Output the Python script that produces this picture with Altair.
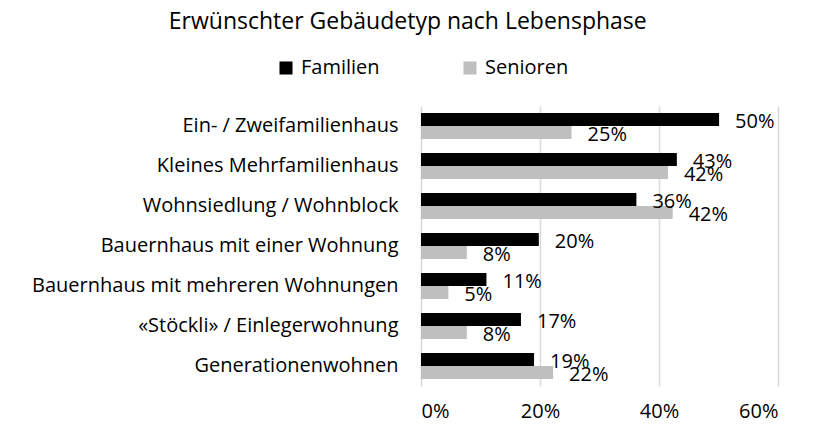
import altair as alt
import pandas as pd

categories = [
    "Ein- / Zweifamilienhaus",
    "Kleines Mehrfamilienhaus",
    "Wohnsiedlung / Wohnblock",
    "Bauernhaus mit einer Wohnung",
    "Bauernhaus mit mehreren Wohnungen",
    "«Stöckli» / Einlegerwohnung",
    "Generationenwohnen",
]
familien = [50.1, 43.0, 36.2, 19.8, 11.0, 16.8, 19.0]
senioren = [25.3, 41.5, 42.3, 7.7, 4.6, 7.7, 22.2]
series = ["Familien", "Senioren"]
colors = ["#000000", "#bfbfbf"]

rows = []
for c, f, s in zip(categories, familien, senioren):
    rows.append({"cat": c, "series": "Familien", "value": f / 100})
    rows.append({"cat": c, "series": "Senioren", "value": s / 100})
df = pd.DataFrame(rows)

FONT = "Open Sans"
FS = 20

y_enc = alt.Y("cat:N", sort=categories, title=None,
              scale=alt.Scale(paddingInner=0.35, paddingOuter=0.175),
              axis=alt.Axis(labelFont=FONT, labelFontSize=FS, labelColor="#000000",
                            labelPadding=23, ticks=False, domain=False, labelLimit=500))
yoff = alt.YOffset("series:N", sort=series, scale=alt.Scale(paddingInner=0, paddingOuter=0))

bars = alt.Chart(df).mark_bar().encode(
    x=alt.X("value:Q", title=None,
            scale=alt.Scale(domain=[0, 0.6], nice=False),
            axis=alt.Axis(format=".0%", values=[0, 0.2, 0.4, 0.6], labelFont=FONT,
                          labelFontSize=FS, labelColor="#000000", labelPadding=15,
                          ticks=False, domain=False, grid=True, gridColor="#d9d9d9",
                          gridWidth=1.5)),
    y=y_enc,
    yOffset=yoff,
    color=alt.Color("series:N", sort=series,
                    scale=alt.Scale(domain=series, range=colors),
                    legend=alt.Legend(title=None, orient="none", direction="horizontal",
                                      legendX=-145, legendY=-48, symbolType="square",
                                      symbolSize=170, symbolStrokeWidth=0,
                                      labelFont=FONT, labelFontSize=FS,
                                      labelColor="#000000", columnPadding=80,
                                      labelOffset=5)),
)

labels = alt.Chart(df).mark_text(align="left", baseline="middle", dx=16, dy=2,
                                 font=FONT, fontSize=FS, color="#000000").encode(
    x="value:Q",
    y=alt.Y("cat:N", sort=categories),
    yOffset=yoff,
    text=alt.Text("value:Q", format=".0%"),
)

chart = (bars + labels).properties(
    width=357, height=280,
    autosize=alt.AutoSizeParams(type="none"),
    padding={"left": 413, "top": 98, "right": 27, "bottom": 39},
    title=alt.TitleParams("Erwünschter Gebäudetyp nach Lebensphase", font=FONT,
                          fontSize=23, fontWeight="normal", color="#000000",
                          anchor="middle", frame="bounds", offset=24, dx=3),
).configure_view(stroke=None)

chart.save("out.html", embed_options={"renderer": "svg", "actions": False})
